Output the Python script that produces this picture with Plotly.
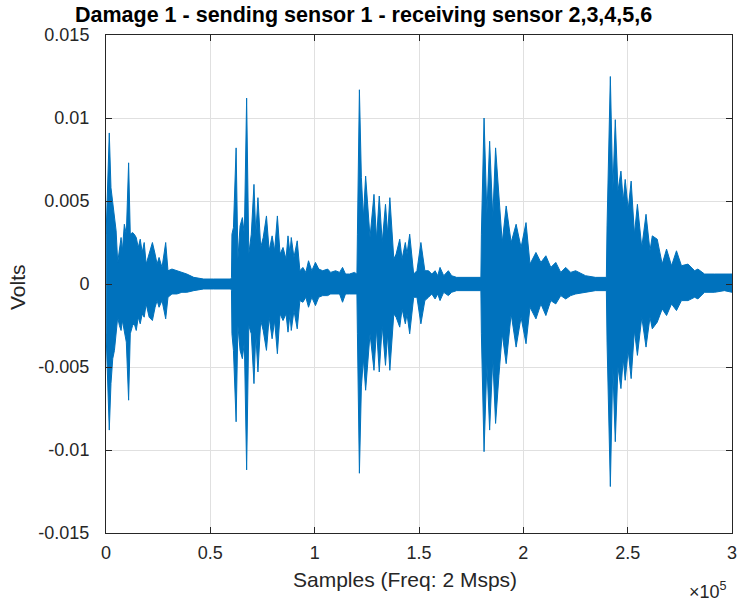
import plotly.graph_objects as go

# envelope of the received signal
samples = [
    50, 950, 1570, 2380, 3230, 4040, 4850, 5610, 6420, 7220, 7840, 8790, 9740,
    10840, 11640, 12740, 13550, 14500, 15450, 16400, 17350, 18300, 19250, 20680,
    22240, 23530, 24480, 25430, 26850, 28610, 29710, 31610, 33980, 36360, 38740,
    42060, 46820, 51570, 56320, 59890,
    60130, 60360, 61080, 62360, 63210, 64260, 65350, 66300, 67400, 68440, 69630,
    70910, 71770, 72820, 74150, 75340, 76900, 78190, 79610, 80800, 82130, 83420,
    84840, 86270, 87220, 88170, 88790, 90070, 91640, 92920, 94350, 95770, 97060,
    98620, 100380, 101950, 103850, 106230, 107660, 110030, 111930, 113360,
    114780, 116690, 119060, 120250,
    120490, 121440, 122390, 123340, 124430, 126530, 128430, 129660, 130950,
    132370, 133940, 134990, 136030, 137930, 139030, 140780, 141880, 143450,
    144250, 145540, 147440, 149010, 150910, 152810, 154570, 156140, 157710,
    158990, 160080, 161840, 164070, 165640, 168020, 172770, 177520, 179660,
    179900, 181180, 182520, 183850, 185370, 186700, 188310, 189880, 191780,
    194160, 196540, 198910, 201290, 203190, 206040, 208420, 210800, 213170,
    215550, 217930, 220300, 222680, 225060, 229810, 234560, 239790,
    240120, 241690, 242880, 244070, 245350, 246780, 247870, 248820, 250250,
    251670, 253240, 254670, 256760, 258800, 260700, 261800, 264170, 266550,
    268640, 271020, 273390, 275770, 278910, 282090, 283660, 286840, 291600,
    296350, 300000,
]
upper = [
    0.0030, 0.0060, 0.0091, 0.0058, 0.0050, 0.0040, 0.0032, 0.0013, 0.0020,
    0.0028, 0.0020, 0.0036, 0.0030, 0.0073, 0.0030, 0.0031, 0.0030, 0.0028,
    0.0022, 0.0027, 0.0019, 0.0025, 0.0012, 0.0018, 0.0025, 0.0018, 0.0012,
    0.0016, 0.0010, 0.0025, 0.0008, 0.0009, 0.0008, 0.0007, 0.0006, 0.0004,
    0.0003, 0.0003, 0.0003, 0.0003,
    0.0004, 0.0030, 0.0034, 0.0082, 0.0015, 0.0035, 0.0040, 0.0030, 0.0112,
    0.0018, 0.0030, 0.0060, 0.0030, 0.0052, 0.0022, 0.0028, 0.0041, 0.0020,
    0.0029, 0.0020, 0.0041, 0.0018, 0.0022, 0.0015, 0.0029, 0.0018, 0.0028,
    0.0016, 0.0026, 0.0008, 0.0010, 0.0007, 0.0014, 0.0008, 0.0013, 0.0009,
    0.0008, 0.0009, 0.0007, 0.0008, 0.0007, 0.0010, 0.0006, 0.0006, 0.0007,
    0.0006,
    0.0030, 0.0117, 0.0064, 0.0040, 0.0065, 0.0028, 0.0054, 0.0027, 0.0053,
    0.0025, 0.0048, 0.0030, 0.0052, 0.0015, 0.0018, 0.0027, 0.0015, 0.0025,
    0.0018, 0.0030, 0.0006, 0.0008, 0.0025, 0.0008, 0.0008, 0.0006, 0.0008,
    0.0005, 0.0010, 0.0005, 0.0008, 0.0005, 0.0004, 0.0004, 0.0004, 0.0004,
    0.0030, 0.0100, 0.0042, 0.0086, 0.0040, 0.0082, 0.0053, 0.0025, 0.0047,
    0.0025, 0.0036, 0.0022, 0.0037, 0.0012, 0.0019, 0.0013, 0.0017, 0.0010,
    0.0013, 0.0007, 0.0010, 0.0007, 0.0008, 0.0005, 0.0004, 0.0004,
    0.0035, 0.0125, 0.0056, 0.0099, 0.0056, 0.0068, 0.0050, 0.0063, 0.0045,
    0.0062, 0.0030, 0.0048, 0.0022, 0.0042, 0.0020, 0.0029, 0.0027, 0.0012,
    0.0021, 0.0011, 0.0020, 0.0011, 0.0012, 0.0008, 0.0009, 0.0006, 0.0006,
    0.0006, 0.0006,
]
lower = [
    -0.0030, -0.0070, -0.0088, -0.0060, -0.0045, -0.0040, -0.0030, -0.0020,
    -0.0025, -0.0028, -0.0022, -0.0030, -0.0035, -0.0070, -0.0030, -0.0025,
    -0.0024, -0.0028, -0.0020, -0.0024, -0.0018, -0.0020, -0.0012, -0.0020,
    -0.0022, -0.0014, -0.0010, -0.0014, -0.0010, -0.0021, -0.0008, -0.0006,
    -0.0006, -0.0005, -0.0005, -0.0004, -0.0003, -0.0003, -0.0003, -0.0003,
    -0.0004, -0.0030, -0.0040, -0.0083, -0.0025, -0.0040, -0.0045, -0.0035,
    -0.0112, -0.0025, -0.0030, -0.0060, -0.0030, -0.0053, -0.0022, -0.0028,
    -0.0040, -0.0020, -0.0033, -0.0022, -0.0042, -0.0018, -0.0022, -0.0018,
    -0.0029, -0.0018, -0.0028, -0.0016, -0.0027, -0.0010, -0.0011, -0.0008,
    -0.0014, -0.0008, -0.0013, -0.0008, -0.0007, -0.0007, -0.0006, -0.0006,
    -0.0006, -0.0011, -0.0006, -0.0006, -0.0006, -0.0006,
    -0.0030, -0.0114, -0.0062, -0.0045, -0.0064, -0.0030, -0.0052, -0.0027,
    -0.0053, -0.0025, -0.0049, -0.0030, -0.0052, -0.0018, -0.0020, -0.0026,
    -0.0015, -0.0024, -0.0018, -0.0030, -0.0008, -0.0008, -0.0024, -0.0010,
    -0.0008, -0.0006, -0.0009, -0.0006, -0.0010, -0.0005, -0.0007, -0.0005,
    -0.0004, -0.0004, -0.0004, -0.0004,
    -0.0030, -0.0101, -0.0048, -0.0088, -0.0045, -0.0084, -0.0055, -0.0030,
    -0.0048, -0.0018, -0.0038, -0.0020, -0.0036, -0.0014, -0.0021, -0.0012,
    -0.0019, -0.0010, -0.0012, -0.0007, -0.0009, -0.0007, -0.0006, -0.0005,
    -0.0004, -0.0004,
    -0.0035, -0.0122, -0.0050, -0.0095, -0.0050, -0.0063, -0.0045, -0.0058,
    -0.0040, -0.0057, -0.0028, -0.0043, -0.0020, -0.0038, -0.0020, -0.0027,
    -0.0023, -0.0015, -0.0019, -0.0012, -0.0016, -0.0010, -0.0010, -0.0008,
    -0.0009, -0.0005, -0.0005, -0.0004, -0.0005,
]

x_ticks = [0, 50000, 100000, 150000, 200000, 250000, 300000]
x_tick_text = ["0", "0.5", "1", "1.5", "2", "2.5", "3"]
y_ticks = [-0.015, -0.01, -0.005, 0, 0.005, 0.01, 0.015]
y_tick_text = ["-0.015", "-0.01", "-0.005", "0", "0.005", "0.01", "0.015"]

blue = "#0072BD"
axis_col = "#262626"
font_family = "Liberation Sans, Arial"

fig = go.Figure()
fig.add_trace(go.Scatter(x=samples, y=lower, mode="lines",
                         line=dict(color=blue, width=1), hoverinfo="skip"))
fig.add_trace(go.Scatter(x=samples, y=upper, mode="lines", fill="tonexty",
                         fillcolor=blue, line=dict(color=blue, width=1)))

axis_common = dict(
    showline=True, linecolor=axis_col, linewidth=1, mirror="ticks",
    ticks="inside", ticklen=6, tickcolor=axis_col,
    showgrid=True, gridcolor="#e0e0e0", gridwidth=1, zeroline=False,
    tickfont=dict(family=font_family, size=18, color=axis_col),
)

fig.update_layout(
    width=748, height=602,
    margin=dict(l=106, r=11, t=35, b=69),
    paper_bgcolor="white", plot_bgcolor="white",
    showlegend=False,
    xaxis=dict(range=[0, 300000], tickvals=x_ticks, ticktext=x_tick_text,
               ticklabelstandoff=3, **axis_common),
    yaxis=dict(range=[-0.015, 0.015], tickvals=y_ticks, ticktext=y_tick_text,
               ticklabelstandoff=12, **axis_common),
    annotations=[
        dict(text="<b>Damage 1 - sending sensor 1 - receiving sensor 2,3,4,5,6</b>",
             xref="paper", yref="paper", x=0.412, y=1, yshift=20,
             xanchor="center", yanchor="middle", showarrow=False,
             font=dict(family=font_family, size=21.5, color="black")),
        dict(text="Samples (Freq: 2 Msps)", xref="paper", yref="paper",
             x=0.478, y=0, yshift=-46, xanchor="center", yanchor="middle",
             showarrow=False,
             font=dict(family=font_family, size=21, color=axis_col)),
        dict(text="Volts", xref="paper", yref="paper", x=0, xshift=-88,
             y=0.494, textangle=-90, xanchor="center", yanchor="middle",
             showarrow=False,
             font=dict(family=font_family, size=21, color=axis_col)),
        dict(text="×10<sup>5</sup>", xref="paper", yref="paper", x=1, xshift=-3,
             y=0, yshift=-57, xanchor="right", yanchor="middle", showarrow=False,
             font=dict(family=font_family, size=18, color=axis_col)),
    ],
)

fig.write_html("out.html", config={"displayModeBar": False},
               post_script="document.body.style.margin='0';")
